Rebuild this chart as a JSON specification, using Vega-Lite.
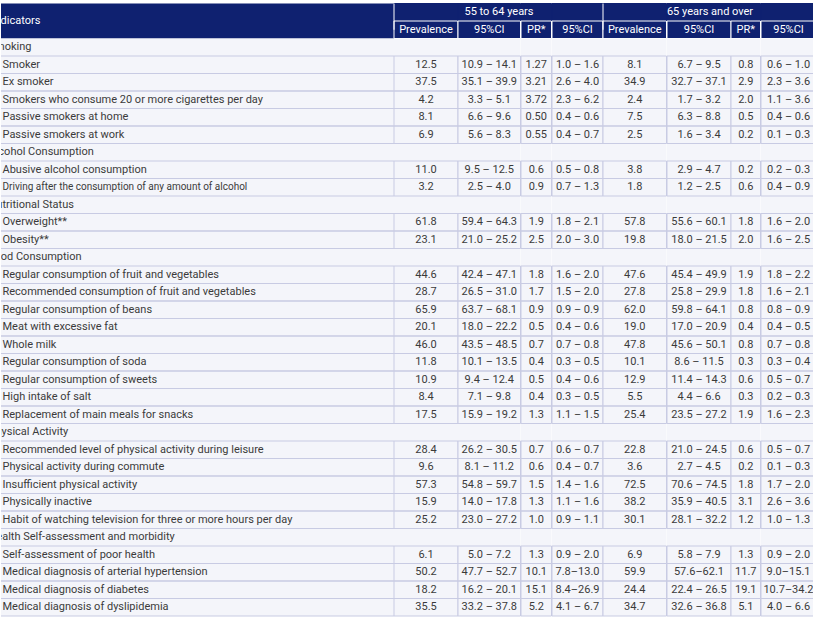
{
  "$schema": "https://vega.github.io/schema/vega-lite/v6.json",
  "background": "#ffffff",
  "padding": {"left": 0, "top": 2.5, "right": 0, "bottom": 0},
  "config": {"view": {"stroke": null}, "font": "Roboto", "text": {"fontSize": 11, "font": "Roboto"}},
  "data": {"name": "rows"},
  "datasets": {
    "rows": [
      {"id": -1, "t": "g", "label": "", "g1": "55 to 64 years", "g2": "65 years and over"},
      {"id": 0, "t": "h", "label": "Indicators", "p1": "Prevalence", "c1": "95%CI", "r1": "PR*", "q1": "95%CI", "p2": "Prevalence", "c2": "95%CI", "r2": "PR*", "q2": "95%CI"},
      {"id": 1, "t": "c", "label": "Smoking"},
      {"id": 2, "t": "d", "label": "Smoker", "p1": "12.5", "c1": "10.9 – 14.1", "r1": "1.27", "q1": "1.0 – 1.6", "p2": "8.1", "c2": "6.7 – 9.5", "r2": "0.8", "q2": "0.6 – 1.0"},
      {"id": 3, "t": "d", "label": "Ex smoker", "p1": "37.5", "c1": "35.1 – 39.9", "r1": "3.21", "q1": "2.6 – 4.0", "p2": "34.9", "c2": "32.7 – 37.1", "r2": "2.9", "q2": "2.3 – 3.6"},
      {"id": 4, "t": "d", "label": "Smokers who consume 20 or more cigarettes per day", "p1": "4.2", "c1": "3.3 – 5.1", "r1": "3.72", "q1": "2.3 – 6.2", "p2": "2.4", "c2": "1.7 – 3.2", "r2": "2.0", "q2": "1.1 – 3.6"},
      {"id": 5, "t": "d", "label": "Passive smokers at home", "p1": "8.1", "c1": "6.6 – 9.6", "r1": "0.50", "q1": "0.4 – 0.6", "p2": "7.5", "c2": "6.3 – 8.8", "r2": "0.5", "q2": "0.4 – 0.6"},
      {"id": 6, "t": "d", "label": "Passive smokers at work", "p1": "6.9", "c1": "5.6 – 8.3", "r1": "0.55", "q1": "0.4 – 0.7", "p2": "2.5", "c2": "1.6 – 3.4", "r2": "0.2", "q2": "0.1 – 0.3"},
      {"id": 7, "t": "c", "label": "Alcohol Consumption"},
      {"id": 8, "t": "d", "label": "Abusive alcohol consumption", "p1": "11.0", "c1": "9.5 – 12.5", "r1": "0.6", "q1": "0.5 – 0.8", "p2": "3.8", "c2": "2.9 – 4.7", "r2": "0.2", "q2": "0.2 – 0.3"},
      {"id": 9, "t": "d", "label": "Driving after the consumption of any amount of alcohol", "p1": "3.2", "c1": "2.5 – 4.0", "r1": "0.9", "q1": "0.7 – 1.3", "p2": "1.8", "c2": "1.2 – 2.5", "r2": "0.6", "q2": "0.4 – 0.9"},
      {"id": 10, "t": "c", "label": "Nutritional Status"},
      {"id": 11, "t": "d", "label": "Overweight**", "p1": "61.8", "c1": "59.4 – 64.3", "r1": "1.9", "q1": "1.8 – 2.1", "p2": "57.8", "c2": "55.6 – 60.1", "r2": "1.8", "q2": "1.6 – 2.0"},
      {"id": 12, "t": "d", "label": "Obesity**", "p1": "23.1", "c1": "21.0 – 25.2", "r1": "2.5", "q1": "2.0 – 3.0", "p2": "19.8", "c2": "18.0 – 21.5", "r2": "2.0", "q2": "1.6 – 2.5"},
      {"id": 13, "t": "c", "label": "Food Consumption"},
      {"id": 14, "t": "d", "label": "Regular consumption of fruit and vegetables", "p1": "44.6", "c1": "42.4 – 47.1", "r1": "1.8", "q1": "1.6 – 2.0", "p2": "47.6", "c2": "45.4 – 49.9", "r2": "1.9", "q2": "1.8 – 2.2"},
      {"id": 15, "t": "d", "label": "Recommended consumption of fruit and vegetables", "p1": "28.7", "c1": "26.5 – 31.0", "r1": "1.7", "q1": "1.5 – 2.0", "p2": "27.8", "c2": "25.8 – 29.9", "r2": "1.8", "q2": "1.6 – 2.1"},
      {"id": 16, "t": "d", "label": "Regular consumption of beans", "p1": "65.9", "c1": "63.7 – 68.1", "r1": "0.9", "q1": "0.9 – 0.9", "p2": "62.0", "c2": "59.8 – 64.1", "r2": "0.8", "q2": "0.8 – 0.9"},
      {"id": 17, "t": "d", "label": "Meat with excessive fat", "p1": "20.1", "c1": "18.0 – 22.2", "r1": "0.5", "q1": "0.4 – 0.6", "p2": "19.0", "c2": "17.0 – 20.9", "r2": "0.4", "q2": "0.4 – 0.5"},
      {"id": 18, "t": "d", "label": "Whole milk", "p1": "46.0", "c1": "43.5 – 48.5", "r1": "0.7", "q1": "0.7 – 0.8", "p2": "47.8", "c2": "45.6 – 50.1", "r2": "0.8", "q2": "0.7 – 0.8"},
      {"id": 19, "t": "d", "label": "Regular consumption of soda", "p1": "11.8", "c1": "10.1 – 13.5", "r1": "0.4", "q1": "0.3 – 0.5", "p2": "10.1", "c2": "8.6 – 11.5", "r2": "0.3", "q2": "0.3 – 0.4"},
      {"id": 20, "t": "d", "label": "Regular consumption of sweets", "p1": "10.9", "c1": "9.4 – 12.4", "r1": "0.5", "q1": "0.4 – 0.6", "p2": "12.9", "c2": "11.4 – 14.3", "r2": "0.6", "q2": "0.5 – 0.7"},
      {"id": 21, "t": "d", "label": "High intake of salt", "p1": "8.4", "c1": "7.1 – 9.8", "r1": "0.4", "q1": "0.3 – 0.5", "p2": "5.5", "c2": "4.4 – 6.6", "r2": "0.3", "q2": "0.2 – 0.3"},
      {"id": 22, "t": "d", "label": "Replacement of main meals for snacks", "p1": "17.5", "c1": "15.9 – 19.2", "r1": "1.3", "q1": "1.1 – 1.5", "p2": "25.4", "c2": "23.5 – 27.2", "r2": "1.9", "q2": "1.6 – 2.3"},
      {"id": 23, "t": "c", "label": "Physical Activity"},
      {"id": 24, "t": "d", "label": "Recommended level of physical activity during leisure", "p1": "28.4", "c1": "26.2 – 30.5", "r1": "0.7", "q1": "0.6 – 0.7", "p2": "22.8", "c2": "21.0 – 24.5", "r2": "0.6", "q2": "0.5 – 0.7"},
      {"id": 25, "t": "d", "label": "Physical activity during commute", "p1": "9.6", "c1": "8.1 – 11.2", "r1": "0.6", "q1": "0.4 – 0.7", "p2": "3.6", "c2": "2.7 – 4.5", "r2": "0.2", "q2": "0.1 – 0.3"},
      {"id": 26, "t": "d", "label": "Insufficient physical activity", "p1": "57.3", "c1": "54.8 – 59.7", "r1": "1.5", "q1": "1.4 – 1.6", "p2": "72.5", "c2": "70.6 – 74.5", "r2": "1.8", "q2": "1.7 – 2.0"},
      {"id": 27, "t": "d", "label": "Physically inactive", "p1": "15.9", "c1": "14.0 – 17.8", "r1": "1.3", "q1": "1.1 – 1.6", "p2": "38.2", "c2": "35.9 – 40.5", "r2": "3.1", "q2": "2.6 – 3.6"},
      {"id": 28, "t": "d", "label": "Habit of watching television for three or more hours per day", "p1": "25.2", "c1": "23.0 – 27.2", "r1": "1.0", "q1": "0.9 – 1.1", "p2": "30.1", "c2": "28.1 – 32.2", "r2": "1.2", "q2": "1.0 – 1.3"},
      {"id": 29, "t": "c", "label": "Health Self-assessment and morbidity"},
      {"id": 30, "t": "d", "label": "Self-assessment of poor health", "p1": "6.1", "c1": "5.0 – 7.2", "r1": "1.3", "q1": "0.9 – 2.0", "p2": "6.9", "c2": "5.8 – 7.9", "r2": "1.3", "q2": "0.9 – 2.0"},
      {"id": 31, "t": "d", "label": "Medical diagnosis of arterial hypertension", "p1": "50.2", "c1": "47.7 – 52.7", "r1": "10.1", "q1": "7.8–13.0", "p2": "59.9", "c2": "57.6–62.1", "r2": "11.7", "q2": "9.0–15.1"},
      {"id": 32, "t": "d", "label": "Medical diagnosis of diabetes", "p1": "18.2", "c1": "16.2 – 20.1", "r1": "15.1", "q1": "8.4–26.9", "p2": "24.4", "c2": "22.4 – 26.5", "r2": "19.1", "q2": "10.7–34.2"},
      {"id": 33, "t": "d", "label": "Medical diagnosis of dyslipidemia", "p1": "35.5", "c1": "33.2 – 37.8", "r1": "5.2", "q1": "4.1 – 6.7", "p2": "34.7", "c2": "32.6 – 36.8", "r2": "5.1", "q2": "4.0 – 6.6"}
    ]
  },
  "spacing": 0,
  "bounds": "flush",
  "hconcat": [
    {
      "width": 393,
      "height": 612.5,
      "layer": [
        {"transform": [{"filter": "datum.t=='g'||datum.t=='h'"}], "mark": {"type": "rect", "fill": "#0f2170"},
         "encoding": {"x": {"datum": "k", "type": "nominal", "axis": null, "scale": {"paddingInner": 0, "paddingOuter": 0}},
                      "y": {"field": "id", "type": "ordinal", "axis": null, "scale": {"domain": [-1,0,1,2,3,4,5,6,7,8,9,10,11,12,13,14,15,16,17,18,19,20,21,22,23,24,25,26,27,28,29,30,31,32,33], "paddingInner": 0, "paddingOuter": 0}}}},
        {"transform": [{"filter": "datum.t=='c'||datum.t=='d'"}], "mark": {"type": "rect", "fill": "#f4f5fa"},
         "encoding": {"x": {"datum": "k", "type": "nominal", "axis": null},
                      "y": {"field": "id", "type": "ordinal", "axis": null}}},
        {"transform": [{"filter": "datum.t=='d'"}], "mark": {"type": "rule", "color": "#c8cbe3", "strokeWidth": 1},
         "encoding": {"y": {"field": "id", "type": "ordinal", "axis": null, "bandPosition": 0}}},
        {"transform": [{"filter": "datum.t=='d'"}], "mark": {"type": "rule", "color": "#c8cbe3", "strokeWidth": 1},
         "encoding": {"y": {"field": "id", "type": "ordinal", "axis": null, "bandPosition": 1}}},
        {"transform": [{"filter": "datum.t=='h'"}], "mark": {"type": "text", "color": "#ffffff", "align": "left", "dx": -9.5, "dy": -8.75, "clip": true},
         "encoding": {"x": {"datum": "k", "type": "nominal", "axis": null, "bandPosition": 0},
                      "y": {"field": "id", "type": "ordinal", "axis": null}, "text": {"field": "label"}}},
        {"transform": [{"filter": "datum.t=='c'"}], "mark": {"type": "text", "color": "#3b3b3b", "align": "left", "dx": -12.5, "clip": true},
         "encoding": {"x": {"datum": "k", "type": "nominal", "axis": null, "bandPosition": 0},
                      "y": {"field": "id", "type": "ordinal", "axis": null}, "text": {"field": "label"}}},
        {"transform": [{"filter": "datum.t=='d' && datum.id!=9"}], "mark": {"type": "text", "color": "#3b3b3b", "align": "left", "dx": 1.5},
         "encoding": {"x": {"datum": "k", "type": "nominal", "axis": null, "bandPosition": 0},
                      "y": {"field": "id", "type": "ordinal", "axis": null}, "text": {"field": "label"}}},
        {"transform": [{"filter": "datum.id==9"}], "mark": {"type": "text", "color": "#3b3b3b", "align": "left", "dx": 1.5, "fontSize": 10},
         "encoding": {"x": {"datum": "k", "type": "nominal", "axis": null, "bandPosition": 0},
                      "y": {"field": "id", "type": "ordinal", "axis": null}, "text": {"field": "label"}}}
      ]
    },
    {"width": 64, "height": 612.5,
     "encoding": {"x": {"datum": "k", "type": "nominal", "axis": null, "scale": {"paddingInner": 0, "paddingOuter": 0}},
                  "y": {"field": "id", "type": "ordinal", "axis": null, "scale": {"domain": [-1,0,1,2,3,4,5,6,7,8,9,10,11,12,13,14,15,16,17,18,19,20,21,22,23,24,25,26,27,28,29,30,31,32,33], "paddingInner": 0, "paddingOuter": 0}}},
     "layer": [
       {"transform": [{"filter": "datum.t=='g'"}], "mark": {"type": "rect", "fill": "#0f2170", "stroke": "#0f2170", "strokeWidth": 1}},
       {"transform": [{"filter": "datum.t=='h'"}], "mark": {"type": "rect", "fill": "#0f2170", "stroke": "#ffffff", "strokeWidth": 1}},
       {"transform": [{"filter": "datum.t=='c'||datum.t=='d'"}], "mark": {"type": "rect", "fill": "#f4f5fa"}},
       {"transform": [{"filter": "datum.t=='d'"}], "mark": {"type": "rect", "fillOpacity": 0, "stroke": "#c8cbe3", "strokeWidth": 1}},
       {"transform": [{"filter": "datum.t=='g'"}], "mark": {"type": "rule", "color": "#ffffff", "strokeWidth": 1},
        "encoding": {"x": {"datum": "k", "type": "nominal", "bandPosition": 0}, "y": {"datum": -1, "type": "ordinal", "bandPosition": 0}, "y2": {"datum": 0}}},
       {"transform": [{"filter": "datum.t=='h'"}], "mark": {"type": "text", "color": "#ffffff"}, "encoding": {"text": {"field": "p1"}}},
       {"transform": [{"filter": "datum.t=='d'"}], "mark": {"type": "text", "color": "#3b3b3b"}, "encoding": {"text": {"field": "p1"}}}
     ]},
    {"width": 62.5, "height": 612.5,
     "encoding": {"x": {"datum": "k", "type": "nominal", "axis": null, "scale": {"paddingInner": 0, "paddingOuter": 0}},
                  "y": {"field": "id", "type": "ordinal", "axis": null, "scale": {"domain": [-1,0,1,2,3,4,5,6,7,8,9,10,11,12,13,14,15,16,17,18,19,20,21,22,23,24,25,26,27,28,29,30,31,32,33], "paddingInner": 0, "paddingOuter": 0}}},
     "layer": [
       {"transform": [{"filter": "datum.t=='g'"}], "mark": {"type": "rect", "fill": "#0f2170", "stroke": "#0f2170", "strokeWidth": 1}},
       {"transform": [{"filter": "datum.t=='h'"}], "mark": {"type": "rect", "fill": "#0f2170", "stroke": "#ffffff", "strokeWidth": 1}},
       {"transform": [{"filter": "datum.t=='c'||datum.t=='d'"}], "mark": {"type": "rect", "fill": "#f4f5fa"}},
       {"transform": [{"filter": "datum.t=='d'"}], "mark": {"type": "rect", "fillOpacity": 0, "stroke": "#c8cbe3", "strokeWidth": 1}},
       {"transform": [{"filter": "datum.t=='h'"}], "mark": {"type": "text", "color": "#ffffff"}, "encoding": {"text": {"field": "c1"}}},
       {"transform": [{"filter": "datum.t=='d'"}], "mark": {"type": "text", "color": "#3b3b3b"}, "encoding": {"text": {"field": "c1"}}}
     ]},
    {"width": 30.5, "height": 612.5,
     "encoding": {"x": {"datum": "k", "type": "nominal", "axis": null, "scale": {"paddingInner": 0, "paddingOuter": 0}},
                  "y": {"field": "id", "type": "ordinal", "axis": null, "scale": {"domain": [-1,0,1,2,3,4,5,6,7,8,9,10,11,12,13,14,15,16,17,18,19,20,21,22,23,24,25,26,27,28,29,30,31,32,33], "paddingInner": 0, "paddingOuter": 0}}},
     "layer": [
       {"transform": [{"filter": "datum.t=='g'"}], "mark": {"type": "rect", "fill": "#0f2170", "stroke": "#0f2170", "strokeWidth": 1}},
       {"transform": [{"filter": "datum.t=='h'"}], "mark": {"type": "rect", "fill": "#0f2170", "stroke": "#ffffff", "strokeWidth": 1}},
       {"transform": [{"filter": "datum.t=='c'||datum.t=='d'"}], "mark": {"type": "rect", "fill": "#f4f5fa"}},
       {"transform": [{"filter": "datum.t=='d'"}], "mark": {"type": "rect", "fillOpacity": 0, "stroke": "#c8cbe3", "strokeWidth": 1}},
       {"transform": [{"filter": "datum.t=='h'"}], "mark": {"type": "text", "color": "#ffffff"}, "encoding": {"text": {"field": "r1"}}},
       {"transform": [{"filter": "datum.t=='d'"}], "mark": {"type": "text", "color": "#3b3b3b"}, "encoding": {"text": {"field": "r1"}}}
     ]},
    {"width": 51, "height": 612.5,
     "encoding": {"x": {"datum": "k", "type": "nominal", "axis": null, "scale": {"paddingInner": 0, "paddingOuter": 0}},
                  "y": {"field": "id", "type": "ordinal", "axis": null, "scale": {"domain": [-1,0,1,2,3,4,5,6,7,8,9,10,11,12,13,14,15,16,17,18,19,20,21,22,23,24,25,26,27,28,29,30,31,32,33], "paddingInner": 0, "paddingOuter": 0}}},
     "layer": [
       {"transform": [{"filter": "datum.t=='g'"}], "mark": {"type": "rect", "fill": "#0f2170", "stroke": "#0f2170", "strokeWidth": 1}},
       {"transform": [{"filter": "datum.t=='h'"}], "mark": {"type": "rect", "fill": "#0f2170", "stroke": "#ffffff", "strokeWidth": 1}},
       {"transform": [{"filter": "datum.t=='c'||datum.t=='d'"}], "mark": {"type": "rect", "fill": "#f4f5fa"}},
       {"transform": [{"filter": "datum.t=='d'"}], "mark": {"type": "rect", "fillOpacity": 0, "stroke": "#c8cbe3", "strokeWidth": 1}},
       {"transform": [{"filter": "datum.t=='h'"}], "mark": {"type": "text", "color": "#ffffff"}, "encoding": {"text": {"field": "q1"}}},
       {"transform": [{"filter": "datum.t=='d'"}], "mark": {"type": "text", "color": "#3b3b3b"}, "encoding": {"text": {"field": "q1"}}},
       {"transform": [{"filter": "datum.t=='g'"}], "mark": {"type": "text", "color": "#ffffff", "dx": -78.5}, "encoding": {"text": {"field": "g1"}}}
     ]},
    {"width": 63.5, "height": 612.5,
     "encoding": {"x": {"datum": "k", "type": "nominal", "axis": null, "scale": {"paddingInner": 0, "paddingOuter": 0}},
                  "y": {"field": "id", "type": "ordinal", "axis": null, "scale": {"domain": [-1,0,1,2,3,4,5,6,7,8,9,10,11,12,13,14,15,16,17,18,19,20,21,22,23,24,25,26,27,28,29,30,31,32,33], "paddingInner": 0, "paddingOuter": 0}}},
     "layer": [
       {"transform": [{"filter": "datum.t=='g'"}], "mark": {"type": "rect", "fill": "#0f2170", "stroke": "#0f2170", "strokeWidth": 1}},
       {"transform": [{"filter": "datum.t=='h'"}], "mark": {"type": "rect", "fill": "#0f2170", "stroke": "#ffffff", "strokeWidth": 1}},
       {"transform": [{"filter": "datum.t=='c'||datum.t=='d'"}], "mark": {"type": "rect", "fill": "#f4f5fa"}},
       {"transform": [{"filter": "datum.t=='d'"}], "mark": {"type": "rect", "fillOpacity": 0, "stroke": "#c8cbe3", "strokeWidth": 1}},
       {"transform": [{"filter": "datum.t=='g'"}], "mark": {"type": "rule", "color": "#ffffff", "strokeWidth": 1},
        "encoding": {"x": {"datum": "k", "type": "nominal", "bandPosition": 0}, "y": {"datum": -1, "type": "ordinal", "bandPosition": 0}, "y2": {"datum": 0}}},
       {"transform": [{"filter": "datum.t=='h'"}], "mark": {"type": "text", "color": "#ffffff"}, "encoding": {"text": {"field": "p2"}}},
       {"transform": [{"filter": "datum.t=='d'"}], "mark": {"type": "text", "color": "#3b3b3b"}, "encoding": {"text": {"field": "p2"}}}
     ]},
    {"width": 64, "height": 612.5,
     "encoding": {"x": {"datum": "k", "type": "nominal", "axis": null, "scale": {"paddingInner": 0, "paddingOuter": 0}},
                  "y": {"field": "id", "type": "ordinal", "axis": null, "scale": {"domain": [-1,0,1,2,3,4,5,6,7,8,9,10,11,12,13,14,15,16,17,18,19,20,21,22,23,24,25,26,27,28,29,30,31,32,33], "paddingInner": 0, "paddingOuter": 0}}},
     "layer": [
       {"transform": [{"filter": "datum.t=='g'"}], "mark": {"type": "rect", "fill": "#0f2170", "stroke": "#0f2170", "strokeWidth": 1}},
       {"transform": [{"filter": "datum.t=='h'"}], "mark": {"type": "rect", "fill": "#0f2170", "stroke": "#ffffff", "strokeWidth": 1}},
       {"transform": [{"filter": "datum.t=='c'||datum.t=='d'"}], "mark": {"type": "rect", "fill": "#f4f5fa"}},
       {"transform": [{"filter": "datum.t=='d'"}], "mark": {"type": "rect", "fillOpacity": 0, "stroke": "#c8cbe3", "strokeWidth": 1}},
       {"transform": [{"filter": "datum.t=='h'"}], "mark": {"type": "text", "color": "#ffffff"}, "encoding": {"text": {"field": "c2"}}},
       {"transform": [{"filter": "datum.t=='d'"}], "mark": {"type": "text", "color": "#3b3b3b"}, "encoding": {"text": {"field": "c2"}}}
     ]},
    {"width": 29.5, "height": 612.5,
     "encoding": {"x": {"datum": "k", "type": "nominal", "axis": null, "scale": {"paddingInner": 0, "paddingOuter": 0}},
                  "y": {"field": "id", "type": "ordinal", "axis": null, "scale": {"domain": [-1,0,1,2,3,4,5,6,7,8,9,10,11,12,13,14,15,16,17,18,19,20,21,22,23,24,25,26,27,28,29,30,31,32,33], "paddingInner": 0, "paddingOuter": 0}}},
     "layer": [
       {"transform": [{"filter": "datum.t=='g'"}], "mark": {"type": "rect", "fill": "#0f2170", "stroke": "#0f2170", "strokeWidth": 1}},
       {"transform": [{"filter": "datum.t=='h'"}], "mark": {"type": "rect", "fill": "#0f2170", "stroke": "#ffffff", "strokeWidth": 1}},
       {"transform": [{"filter": "datum.t=='c'||datum.t=='d'"}], "mark": {"type": "rect", "fill": "#f4f5fa"}},
       {"transform": [{"filter": "datum.t=='d'"}], "mark": {"type": "rect", "fillOpacity": 0, "stroke": "#c8cbe3", "strokeWidth": 1}},
       {"transform": [{"filter": "datum.t=='h'"}], "mark": {"type": "text", "color": "#ffffff"}, "encoding": {"text": {"field": "r2"}}},
       {"transform": [{"filter": "datum.t=='d'"}], "mark": {"type": "text", "color": "#3b3b3b"}, "encoding": {"text": {"field": "r2"}}}
     ]},
    {"width": 55, "height": 612.5,
     "encoding": {"x": {"datum": "k", "type": "nominal", "axis": null, "scale": {"paddingInner": 0, "paddingOuter": 0}},
                  "y": {"field": "id", "type": "ordinal", "axis": null, "scale": {"domain": [-1,0,1,2,3,4,5,6,7,8,9,10,11,12,13,14,15,16,17,18,19,20,21,22,23,24,25,26,27,28,29,30,31,32,33], "paddingInner": 0, "paddingOuter": 0}}},
     "layer": [
       {"transform": [{"filter": "datum.t=='g'"}], "mark": {"type": "rect", "fill": "#0f2170", "stroke": "#0f2170", "strokeWidth": 1}},
       {"transform": [{"filter": "datum.t=='h'"}], "mark": {"type": "rect", "fill": "#0f2170", "stroke": "#ffffff", "strokeWidth": 1}},
       {"transform": [{"filter": "datum.t=='c'||datum.t=='d'"}], "mark": {"type": "rect", "fill": "#f4f5fa"}},
       {"transform": [{"filter": "datum.t=='d'"}], "mark": {"type": "rect", "fillOpacity": 0, "stroke": "#c8cbe3", "strokeWidth": 1}},
       {"transform": [{"filter": "datum.t=='h'"}], "mark": {"type": "text", "color": "#ffffff"}, "encoding": {"text": {"field": "q2"}}},
       {"transform": [{"filter": "datum.t=='d'"}], "mark": {"type": "text", "color": "#3b3b3b"}, "encoding": {"text": {"field": "q2"}}},
       {"transform": [{"filter": "datum.t=='g'"}], "mark": {"type": "text", "color": "#ffffff", "dx": -78.5}, "encoding": {"text": {"field": "g2"}}}
     ]}
  ]
}
